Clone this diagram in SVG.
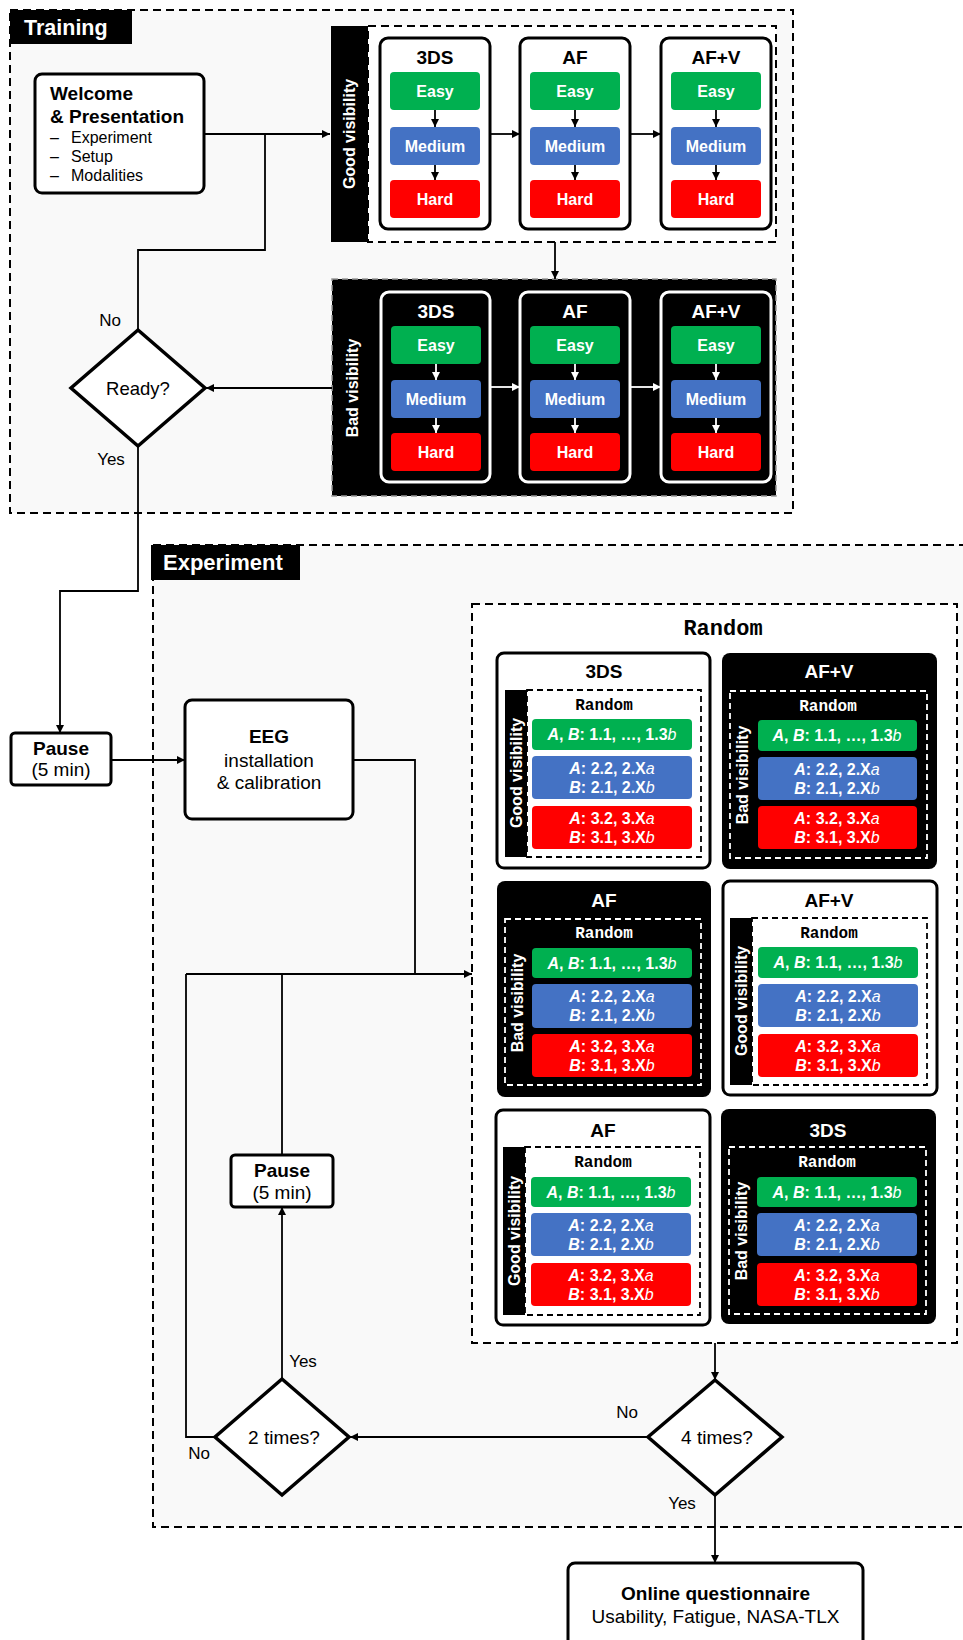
<svg xmlns="http://www.w3.org/2000/svg" width="963" height="1640" viewBox="0 0 963 1640">
<style>
text{font-family:"Liberation Sans",Arial,sans-serif;fill:#000}
.bd{font-weight:bold}
.c{text-anchor:middle}
.w{fill:#fff}
.frame{fill:#F9F9F9;stroke:#000;stroke-width:2;stroke-dasharray:8,5}
.box{fill:#fff;stroke:#000;stroke-width:3}
.lbl{font-size:22px;font-weight:bold;fill:#fff}
.ttl{font-size:19px;font-weight:bold;text-anchor:middle}
.lvl{font-size:16px;font-weight:bold;text-anchor:middle;fill:#fff}
.vis{font-size:16px;font-weight:bold;text-anchor:middle;fill:#fff}
.rnd{font-family:"Courier New","Liberation Mono",monospace;font-size:16px;font-weight:bold;text-anchor:middle}
.g{fill:#00B050}.bl{fill:#4472C4}.rd{fill:#FF0000}
.i{font-style:italic}
.il{font-style:italic;font-weight:normal}
.ln{fill:none;stroke:#000;stroke-width:1.8}
.lnw{fill:none;stroke:#fff;stroke-width:1.8}
.dw{fill:none;stroke:#fff;stroke-width:1.8;stroke-dasharray:6,4}
.dk{fill:none;stroke:#000;stroke-width:1.8;stroke-dasharray:6,4}
.n17{font-size:17px}
.n19{font-size:19px}
</style>
<defs>
<marker id="ah" viewBox="0 0 10 10" refX="10" refY="5" markerWidth="9" markerHeight="8" markerUnits="userSpaceOnUse" orient="auto"><path d="M0,0 L10,5 L0,10 z" fill="#000"/></marker>
<marker id="ahw" viewBox="0 0 10 10" refX="10" refY="5" markerWidth="9" markerHeight="8" markerUnits="userSpaceOnUse" orient="auto"><path d="M0,0 L10,5 L0,10 z" fill="#fff"/></marker>
</defs>

<!-- Training section -->
<g id="training">
<rect x="10" y="10" width="783" height="503" class="frame"/>
<rect x="10" y="10" width="122" height="34" fill="#000"/>
<text x="24" y="35" class="lbl" style="font-size:21.5px">Training</text>
</g>

<g id="welcome">
<rect x="35" y="74" width="169" height="119" rx="7" class="box"/>
<text x="50" y="100" class="bd n19">Welcome</text>
<text x="50" y="123" class="bd n19">&amp; Presentation</text>
<text x="50" y="143" style="font-size:16px">–</text><text x="71" y="143" style="font-size:16px">Experiment</text>
<text x="50" y="162" style="font-size:16px">–</text><text x="71" y="162" style="font-size:16px">Setup</text>
<text x="50" y="181" style="font-size:16px">–</text><text x="71" y="181" style="font-size:16px">Modalities</text>
</g>

<g id="good-visibility-training">
<rect x="368" y="26" width="408" height="216" fill="#fff" stroke="#000" stroke-width="2" stroke-dasharray="8,5"/>
<rect x="331" y="26" width="37" height="216" fill="#000"/>
<text transform="translate(355,134) rotate(-90)" class="vis">Good visibility</text>
<g transform="translate(380,38)">
<rect width="110" height="191" rx="8" class="box"/>
<text x="55" y="26" class="ttl">3DS</text>
<rect x="10" y="34" width="90" height="38" rx="4" class="g"/><text x="55" y="58.7" class="lvl">Easy</text>
<rect x="10" y="89" width="90" height="38" rx="4" class="bl"/><text x="55" y="113.7" class="lvl">Medium</text>
<rect x="10" y="142" width="90" height="38" rx="4" class="rd"/><text x="55" y="166.7" class="lvl">Hard</text>
<path d="M55,72 V89" class="ln" marker-end="url(#ah)"/><path d="M55,127 V142" class="ln" marker-end="url(#ah)"/>
</g>
<g transform="translate(520,38)">
<rect width="110" height="191" rx="8" class="box"/>
<text x="55" y="26" class="ttl">AF</text>
<rect x="10" y="34" width="90" height="38" rx="4" class="g"/><text x="55" y="58.7" class="lvl">Easy</text>
<rect x="10" y="89" width="90" height="38" rx="4" class="bl"/><text x="55" y="113.7" class="lvl">Medium</text>
<rect x="10" y="142" width="90" height="38" rx="4" class="rd"/><text x="55" y="166.7" class="lvl">Hard</text>
<path d="M55,72 V89" class="ln" marker-end="url(#ah)"/><path d="M55,127 V142" class="ln" marker-end="url(#ah)"/>
</g>
<g transform="translate(661,38)">
<rect width="110" height="191" rx="8" class="box"/>
<text x="55" y="26" class="ttl">AF+V</text>
<rect x="10" y="34" width="90" height="38" rx="4" class="g"/><text x="55" y="58.7" class="lvl">Easy</text>
<rect x="10" y="89" width="90" height="38" rx="4" class="bl"/><text x="55" y="113.7" class="lvl">Medium</text>
<rect x="10" y="142" width="90" height="38" rx="4" class="rd"/><text x="55" y="166.7" class="lvl">Hard</text>
<path d="M55,72 V89" class="ln" marker-end="url(#ah)"/><path d="M55,127 V142" class="ln" marker-end="url(#ah)"/>
</g>
<path d="M490,134 H520" class="ln" marker-end="url(#ah)"/>
<path d="M630,134 H661" class="ln" marker-end="url(#ah)"/>
</g>

<g id="bad-visibility-training">
<rect x="332" y="279" width="444" height="217" fill="#000" stroke="#999" stroke-width="1.5" stroke-dasharray="6,4"/>
<text transform="translate(358,388) rotate(-90)" class="vis">Bad visibility</text>
<g transform="translate(381,292)">
<rect width="109" height="190" rx="8" fill="#000" stroke="#fff" stroke-width="3"/>
<text x="55" y="26" class="ttl w">3DS</text>
<rect x="10" y="34" width="90" height="38" rx="4" class="g"/><text x="55" y="58.7" class="lvl">Easy</text>
<rect x="10" y="88" width="90" height="38" rx="4" class="bl"/><text x="55" y="112.7" class="lvl">Medium</text>
<rect x="10" y="141" width="90" height="38" rx="4" class="rd"/><text x="55" y="165.7" class="lvl">Hard</text>
<path d="M55,72 V88" class="lnw" marker-end="url(#ahw)"/><path d="M55,126 V141" class="lnw" marker-end="url(#ahw)"/>
</g>
<g transform="translate(520,292)">
<rect width="110" height="190" rx="8" fill="#000" stroke="#fff" stroke-width="3"/>
<text x="55" y="26" class="ttl w">AF</text>
<rect x="10" y="34" width="90" height="38" rx="4" class="g"/><text x="55" y="58.7" class="lvl">Easy</text>
<rect x="10" y="88" width="90" height="38" rx="4" class="bl"/><text x="55" y="112.7" class="lvl">Medium</text>
<rect x="10" y="141" width="90" height="38" rx="4" class="rd"/><text x="55" y="165.7" class="lvl">Hard</text>
<path d="M55,72 V88" class="lnw" marker-end="url(#ahw)"/><path d="M55,126 V141" class="lnw" marker-end="url(#ahw)"/>
</g>
<g transform="translate(661,292)">
<rect width="110" height="190" rx="8" fill="#000" stroke="#fff" stroke-width="3"/>
<text x="55" y="26" class="ttl w">AF+V</text>
<rect x="10" y="34" width="90" height="38" rx="4" class="g"/><text x="55" y="58.7" class="lvl">Easy</text>
<rect x="10" y="88" width="90" height="38" rx="4" class="bl"/><text x="55" y="112.7" class="lvl">Medium</text>
<rect x="10" y="141" width="90" height="38" rx="4" class="rd"/><text x="55" y="165.7" class="lvl">Hard</text>
<path d="M55,72 V88" class="lnw" marker-end="url(#ahw)"/><path d="M55,126 V141" class="lnw" marker-end="url(#ahw)"/>
</g>
<path d="M490,387 H520" class="lnw" marker-end="url(#ahw)"/>
<path d="M630,387 H661" class="lnw" marker-end="url(#ahw)"/>
</g>

<g id="ready">
<polygon points="138,330 205,388 138,446 71,388" fill="#fff" stroke="#000" stroke-width="3.5"/>
<text x="138" y="394.5" class="c" style="font-size:18.5px">Ready?</text>
</g>

<!-- Experiment section -->
<g id="experiment">
<rect x="153" y="545" width="830" height="982" class="frame"/>
<rect x="151" y="545" width="149" height="35" fill="#000"/>
<text x="163" y="570" class="lbl">Experiment</text>
</g>

<g id="pause1">
<rect x="11" y="733" width="100" height="52" rx="4" class="box"/>
<text x="61" y="755" class="c bd n19">Pause</text>
<text x="61" y="776" class="c n19">(5 min)</text>
</g>

<g id="eeg">
<rect x="185" y="700" width="168" height="119" rx="7" class="box"/>
<text x="269" y="743" class="c bd n19">EEG</text>
<text x="269" y="767" class="c n19">installation</text>
<text x="269" y="789" class="c n19">&amp; calibration</text>
</g>

<g id="random-block">
<rect x="472" y="604" width="485" height="739" fill="#fff" stroke="#000" stroke-width="2" stroke-dasharray="8,5"/>
<text x="723" y="635" class="rnd" style="font-size:22px">Random</text>
</g>

<g id="card-3ds-good" transform="translate(497,653)">
<rect width="213" height="215" rx="7" class="box"/>
<text x="107" y="25" class="ttl">3DS</text>
<rect x="8" y="37" width="22" height="167" fill="#000"/>
<rect x="30" y="37" width="174" height="167" class="dk"/>
<text transform="translate(25,120) rotate(-90)" class="vis">Good visibility</text>
<text x="107" y="57" class="rnd">Random</text>
<rect x="35" y="66" width="160" height="31" rx="4" class="g"/>
<text x="115" y="87" class="lvl"><tspan class="i">A</tspan>, <tspan class="i">B</tspan>: 1.1, …, 1.3<tspan class="il">b</tspan></text>
<rect x="35" y="103" width="160" height="43" rx="4" class="bl"/>
<text x="115" y="121" class="lvl"><tspan class="i">A</tspan>: 2.2, 2.X<tspan class="il">a</tspan></text>
<text x="115" y="140" class="lvl"><tspan class="i">B</tspan>: 2.1, 2.X<tspan class="il">b</tspan></text>
<rect x="35" y="153" width="160" height="43" rx="4" class="rd"/>
<text x="115" y="171" class="lvl"><tspan class="i">A</tspan>: 3.2, 3.X<tspan class="il">a</tspan></text>
<text x="115" y="190" class="lvl"><tspan class="i">B</tspan>: 3.1, 3.X<tspan class="il">b</tspan></text>
</g>

<g id="card-afv-bad" transform="translate(722,653)">
<rect width="215" height="216" rx="8" fill="#000"/>
<text x="107" y="25" class="ttl w">AF+V</text>
<rect x="8" y="38" width="197" height="167" class="dw"/>
<text transform="translate(26,122) rotate(-90)" class="vis">Bad visibility</text>
<text x="106" y="58" class="rnd w">Random</text>
<rect x="36" y="67" width="159" height="31" rx="4" class="g"/>
<text x="115" y="88" class="lvl"><tspan class="i">A</tspan>, <tspan class="i">B</tspan>: 1.1, …, 1.3<tspan class="il">b</tspan></text>
<rect x="36" y="104" width="159" height="43" rx="4" class="bl"/>
<text x="115" y="122" class="lvl"><tspan class="i">A</tspan>: 2.2, 2.X<tspan class="il">a</tspan></text>
<text x="115" y="141" class="lvl"><tspan class="i">B</tspan>: 2.1, 2.X<tspan class="il">b</tspan></text>
<rect x="36" y="153" width="159" height="43" rx="4" class="rd"/>
<text x="115" y="171" class="lvl"><tspan class="i">A</tspan>: 3.2, 3.X<tspan class="il">a</tspan></text>
<text x="115" y="190" class="lvl"><tspan class="i">B</tspan>: 3.1, 3.X<tspan class="il">b</tspan></text>
</g>

<g id="card-af-bad" transform="translate(497,881)">
<rect width="214" height="216" rx="8" fill="#000"/>
<text x="107" y="26" class="ttl w">AF</text>
<rect x="8" y="38" width="196" height="166" class="dw"/>
<text transform="translate(26,122) rotate(-90)" class="vis">Bad visibility</text>
<text x="107" y="57" class="rnd w">Random</text>
<rect x="35" y="67" width="160" height="30" rx="4" class="g"/>
<text x="115" y="87.5" class="lvl"><tspan class="i">A</tspan>, <tspan class="i">B</tspan>: 1.1, …, 1.3<tspan class="il">b</tspan></text>
<rect x="35" y="103" width="160" height="44" rx="4" class="bl"/>
<text x="115" y="121" class="lvl"><tspan class="i">A</tspan>: 2.2, 2.X<tspan class="il">a</tspan></text>
<text x="115" y="140" class="lvl"><tspan class="i">B</tspan>: 2.1, 2.X<tspan class="il">b</tspan></text>
<rect x="35" y="153" width="160" height="43" rx="4" class="rd"/>
<text x="115" y="171" class="lvl"><tspan class="i">A</tspan>: 3.2, 3.X<tspan class="il">a</tspan></text>
<text x="115" y="190" class="lvl"><tspan class="i">B</tspan>: 3.1, 3.X<tspan class="il">b</tspan></text>
</g>

<g id="card-afv-good" transform="translate(723,881)">
<rect width="214" height="214" rx="7" class="box"/>
<text x="106" y="26" class="ttl">AF+V</text>
<rect x="7" y="37" width="22" height="167" fill="#000"/>
<rect x="29" y="37" width="175" height="167" class="dk"/>
<text transform="translate(24,120) rotate(-90)" class="vis">Good visibility</text>
<text x="106" y="57" class="rnd">Random</text>
<rect x="35" y="66" width="160" height="31" rx="4" class="g"/>
<text x="115" y="87" class="lvl"><tspan class="i">A</tspan>, <tspan class="i">B</tspan>: 1.1, …, 1.3<tspan class="il">b</tspan></text>
<rect x="35" y="103" width="160" height="43" rx="4" class="bl"/>
<text x="115" y="121" class="lvl"><tspan class="i">A</tspan>: 2.2, 2.X<tspan class="il">a</tspan></text>
<text x="115" y="140" class="lvl"><tspan class="i">B</tspan>: 2.1, 2.X<tspan class="il">b</tspan></text>
<rect x="35" y="153" width="160" height="43" rx="4" class="rd"/>
<text x="115" y="171" class="lvl"><tspan class="i">A</tspan>: 3.2, 3.X<tspan class="il">a</tspan></text>
<text x="115" y="190" class="lvl"><tspan class="i">B</tspan>: 3.1, 3.X<tspan class="il">b</tspan></text>
</g>

<g id="card-af-good" transform="translate(496,1110)">
<rect width="214" height="215" rx="7" class="box"/>
<text x="107" y="27" class="ttl">AF</text>
<rect x="7" y="37" width="22" height="168" fill="#000"/>
<rect x="29" y="37" width="175" height="168" class="dk"/>
<text transform="translate(24,121) rotate(-90)" class="vis">Good visibility</text>
<text x="107" y="57" class="rnd">Random</text>
<rect x="35" y="67" width="160" height="30" rx="4" class="g"/>
<text x="115" y="87.5" class="lvl"><tspan class="i">A</tspan>, <tspan class="i">B</tspan>: 1.1, …, 1.3<tspan class="il">b</tspan></text>
<rect x="35" y="103" width="160" height="43" rx="4" class="bl"/>
<text x="115" y="121" class="lvl"><tspan class="i">A</tspan>: 2.2, 2.X<tspan class="il">a</tspan></text>
<text x="115" y="140" class="lvl"><tspan class="i">B</tspan>: 2.1, 2.X<tspan class="il">b</tspan></text>
<rect x="35" y="153" width="160" height="43" rx="4" class="rd"/>
<text x="115" y="171" class="lvl"><tspan class="i">A</tspan>: 3.2, 3.X<tspan class="il">a</tspan></text>
<text x="115" y="190" class="lvl"><tspan class="i">B</tspan>: 3.1, 3.X<tspan class="il">b</tspan></text>
</g>

<g id="card-3ds-bad" transform="translate(721,1109)">
<rect width="215" height="215" rx="8" fill="#000"/>
<text x="107" y="28" class="ttl w">3DS</text>
<rect x="8" y="38" width="197" height="167" class="dw"/>
<text transform="translate(26,122) rotate(-90)" class="vis">Bad visibility</text>
<text x="106" y="58" class="rnd w">Random</text>
<rect x="36" y="68" width="160" height="30" rx="4" class="g"/>
<text x="116" y="88.5" class="lvl"><tspan class="i">A</tspan>, <tspan class="i">B</tspan>: 1.1, …, 1.3<tspan class="il">b</tspan></text>
<rect x="36" y="104" width="160" height="43" rx="4" class="bl"/>
<text x="116" y="122" class="lvl"><tspan class="i">A</tspan>: 2.2, 2.X<tspan class="il">a</tspan></text>
<text x="116" y="141" class="lvl"><tspan class="i">B</tspan>: 2.1, 2.X<tspan class="il">b</tspan></text>
<rect x="36" y="154" width="160" height="43" rx="4" class="rd"/>
<text x="116" y="172" class="lvl"><tspan class="i">A</tspan>: 3.2, 3.X<tspan class="il">a</tspan></text>
<text x="116" y="191" class="lvl"><tspan class="i">B</tspan>: 3.1, 3.X<tspan class="il">b</tspan></text>
</g>

<g id="pause2">
<rect x="231" y="1155" width="102" height="52" rx="4" class="box"/>
<text x="282" y="1177" class="c bd n19">Pause</text>
<text x="282" y="1199" class="c n19">(5 min)</text>
</g>

<g id="two-times">
<polygon points="282,1379 349,1437 282,1495 215,1437" fill="#fff" stroke="#000" stroke-width="3.5"/>
<text x="284" y="1443.5" class="c n19">2 times?</text>
</g>

<g id="four-times">
<polygon points="715,1380 782,1437 715,1495 648,1437" fill="#fff" stroke="#000" stroke-width="3.5"/>
<text x="717" y="1444" class="c n19">4 times?</text>
</g>

<g id="questionnaire">
<rect x="568" y="1563" width="295" height="100" rx="7" class="box"/>
<text x="715.5" y="1600" class="c bd n19">Online questionnaire</text>
<text x="715.5" y="1623" class="c n19">Usability, Fatigue, NASA-TLX</text>
</g>

<g id="connectors">
<path d="M204,134 H330" class="ln" marker-end="url(#ah)"/>
<path d="M138,330 V250 H265 V134" class="ln"/>
<path d="M555,242 V279" class="ln" marker-end="url(#ah)"/>
<path d="M332,388 H206" class="ln" marker-end="url(#ah)"/>
<path d="M138,446 V591 H60 V733" class="ln" marker-end="url(#ah)"/>
<path d="M111,760 H185" class="ln" marker-end="url(#ah)"/>
<path d="M353,760 H415 V974" class="ln"/>
<path d="M186,974 H472" class="ln" marker-end="url(#ah)"/>
<path d="M282,1155 V974" class="ln"/>
<path d="M215,1437 H186 V974" class="ln"/>
<path d="M715,1343 V1380" class="ln" marker-end="url(#ah)"/>
<path d="M648,1437 H350" class="ln" marker-end="url(#ah)"/>
<path d="M282,1379 V1207" class="ln" marker-end="url(#ah)"/>
<path d="M715,1495 V1563" class="ln" marker-end="url(#ah)"/>
<text x="110" y="326" class="c n17">No</text>
<text x="111" y="465" class="c n17">Yes</text>
<text x="303" y="1367" class="c n17">Yes</text>
<text x="199" y="1459" class="c n17">No</text>
<text x="627" y="1418" class="c n17">No</text>
<text x="682" y="1509" class="c n17">Yes</text>
</g>
</svg>
